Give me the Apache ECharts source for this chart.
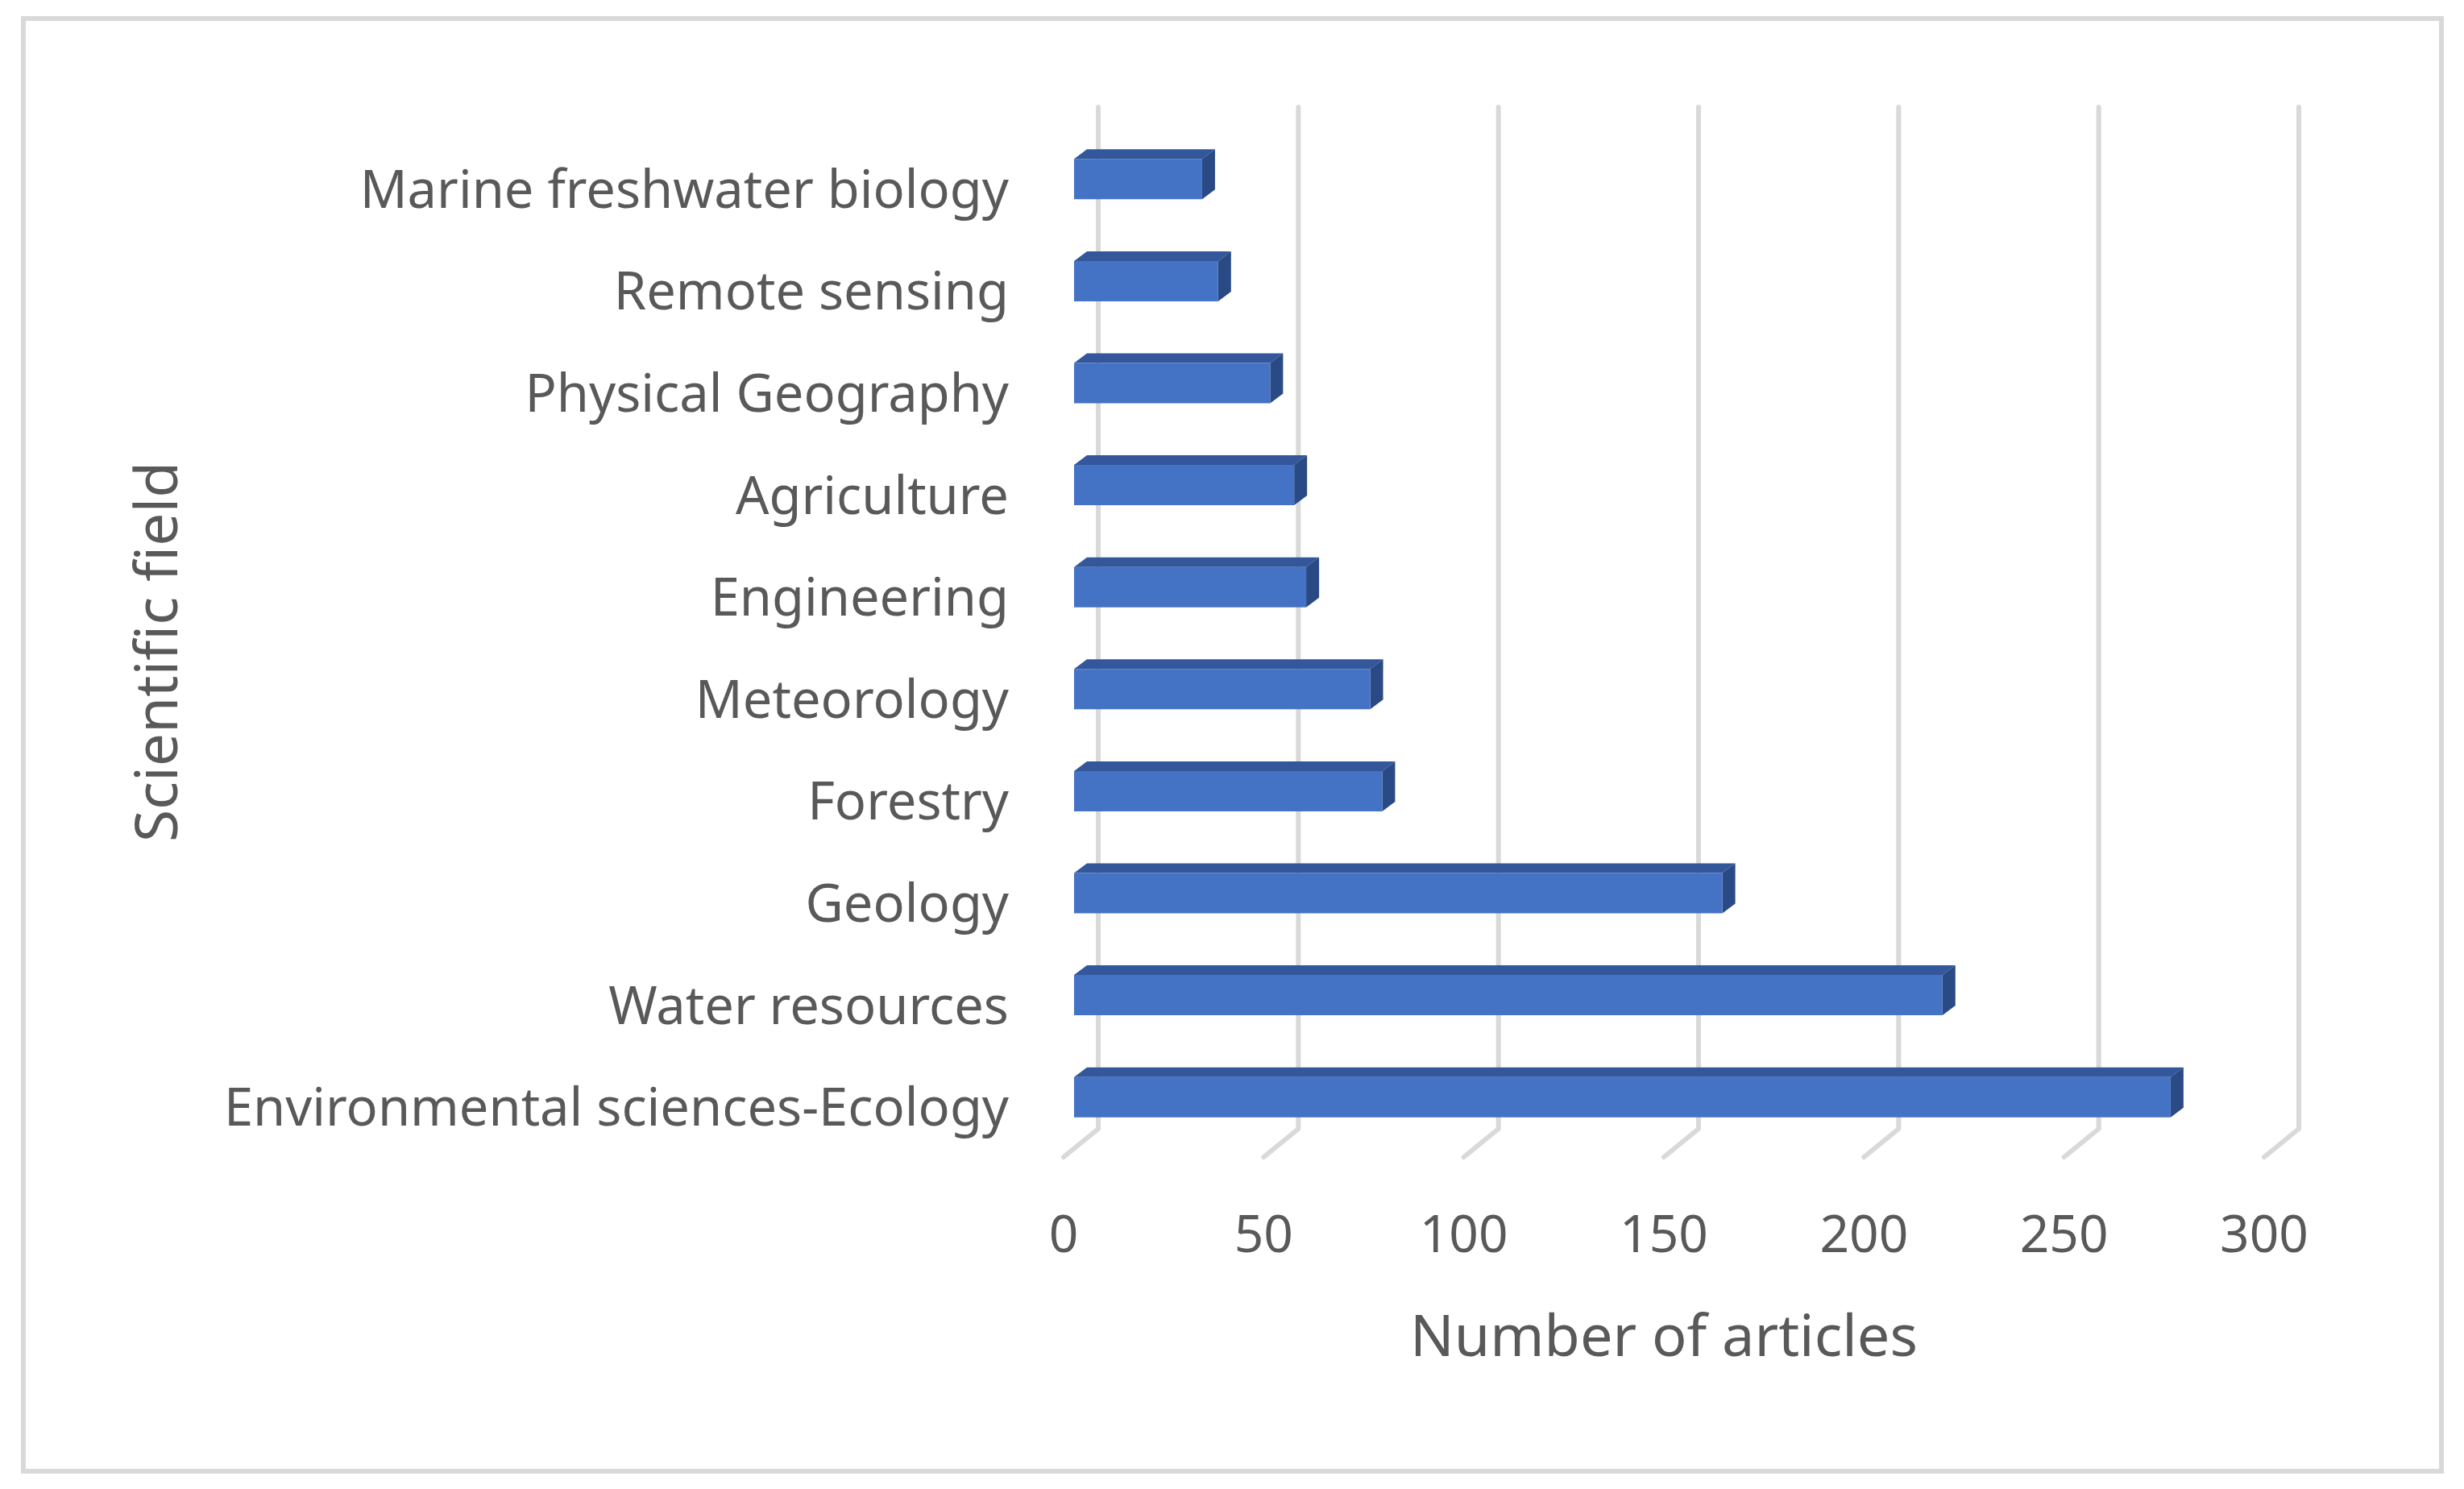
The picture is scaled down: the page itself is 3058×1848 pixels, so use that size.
<!DOCTYPE html>
<html>
<head>
<meta charset="utf-8">
<script src="https://cdn.jsdelivr.net/npm/echarts@6/dist/echarts.min.js"></script>
<style>
  html, body { margin: 0; padding: 0; background: #fff; }
  #chart { width: 3058px; height: 1848px; }
</style>
</head>
<body>
<div id="chart"></div>
<script>
// data (bottom to top)
var fields = [
  "Environmental sciences-Ecology",
  "Water resources",
  "Geology",
  "Forestry",
  "Meteorology",
  "Engineering",
  "Agriculture",
  "Physical Geography",
  "Remote sensing",
  "Marine freshwater biology"
];
var articles = [274, 217, 162, 77, 74, 58, 55, 49, 36, 32];
var xTicks = [0, 50, 100, 150, 200, 250, 300];

var textColor = "#595959";
var fontFamily = "'Noto Sans', 'Open Sans', sans-serif";

// oblique "3D" offsets in pixels
var floorLift = 6;               // floor front sits a bit above the grid bottom
var wallDx = 43, wallDy = -35;   // floor front -> back wall
var barDx = 13, barDy = -17;     // category centre -> bar front face
var depthDx = 16, depthDy = -12; // bar thickness
var barH = 50;

var chart = echarts.init(document.getElementById("chart"));

function renderGrid(params, api) {
  var cs = params.coordSys;
  var p = api.coord([api.value(0), 0]);
  var floorY = cs.y + cs.height - floorLift;
  var topY = cs.y - 43;
  return {
    type: "polyline",
    shape: {
      points: [
        [p[0], floorY],
        [p[0] + wallDx, floorY + wallDy],
        [p[0] + wallDx, topY]
      ]
    },
    style: { stroke: "#d9d9d9", lineWidth: 6, fill: null, lineCap: "round", lineJoin: "round" }
  };
}

function renderBar(params, api) {
  var cat = api.value(1);
  var p0 = api.coord([0, cat]);
  var p1 = api.coord([api.value(0), cat]);
  var x0 = p0[0] + barDx;
  var x1 = p1[0] + barDx;
  var yc = p0[1] + barDy;
  var yT = yc - barH / 2;
  var yB = yc + barH / 2;
  return {
    type: "group",
    children: [
      {
        type: "polygon",
        shape: { points: [[x0, yT], [x1, yT], [x1 + depthDx, yT + depthDy], [x0 + depthDx, yT + depthDy]] },
        style: { fill: "#33579a" }
      },
      {
        type: "polygon",
        shape: { points: [[x1, yT], [x1 + depthDx, yT + depthDy], [x1 + depthDx, yB + depthDy], [x1, yB]] },
        style: { fill: "#2a4a85" }
      },
      {
        type: "rect",
        shape: { x: x0, y: yT, width: x1 - x0, height: barH },
        style: { fill: "#4472c4" }
      }
    ]
  };
}

var option = {
  backgroundColor: "#fff",
  animation: false,
  textStyle: { fontFamily: fontFamily },
  graphic: [
    {
      type: "rect",
      shape: { x: 29, y: 23, width: 3001, height: 1803 },
      style: { fill: null, stroke: "#d9d9d9", lineWidth: 6 }
    }
  ],
  grid: {
    left: 1320,
    right: 248,
    top: 176,
    bottom: 406
  },
  xAxis: {
    type: "value",
    min: 0,
    max: 300,
    interval: 50,
    axisLine: { show: false },
    axisTick: { show: false },
    splitLine: { show: false },
    axisLabel: {
      color: textColor,
      fontSize: 64,
      fontFamily: fontFamily,
      margin: 62
    },
    name: "Number of articles",
    nameLocation: "middle",
    nameGap: 184,
    nameTextStyle: { color: textColor, fontSize: 72, fontFamily: fontFamily }
  },
  yAxis: {
    type: "category",
    data: fields,
    axisLine: { show: false },
    axisTick: { show: false },
    splitLine: { show: false },
    axisLabel: {
      color: textColor,
      fontSize: 65,
      fontFamily: fontFamily,
      margin: 68
    },
    name: "Scientific field",
    nameLocation: "middle",
    nameRotate: 90,
    nameGap: 1084,
    nameTextStyle: { color: textColor, fontSize: 73, fontFamily: fontFamily }
  },
  series: [
    {
      name: "grid",
      type: "custom",
      z: 1,
      clip: false,
      silent: true,
      renderItem: renderGrid,
      encode: { x: 0, y: 1 },
      data: xTicks.map(function (t) { return [t, 0]; })
    },
    {
      name: "Number of articles",
      type: "custom",
      z: 2,
      clip: false,
      renderItem: renderBar,
      encode: { x: 0, y: 1 },
      data: articles.map(function (v, i) { return [v, i]; })
    }
  ]
};

chart.setOption(option);
</script>
</body>
</html>
